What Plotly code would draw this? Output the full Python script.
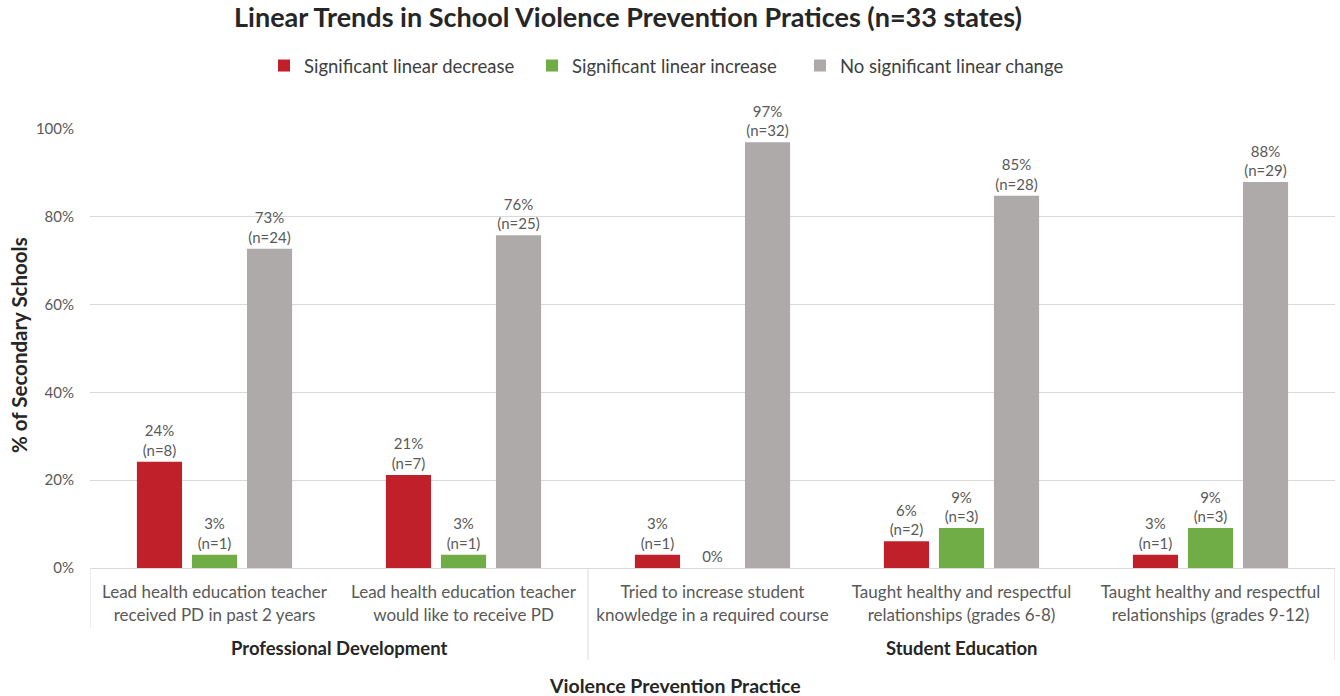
import plotly.graph_objects as go

categories = [
    "Lead health education teacher<br>received PD in past 2 years",
    "Lead health education teacher<br>would like to receive PD",
    "Tried to increase student<br>knowledge in a required course",
    "Taught healthy and respectful<br>relationships (grades 6-8)",
    "Taught healthy and respectful<br>relationships (grades 9-12)",
]
groups = ["Professional Development", "Student Education"]
group_spans = [(0, 1), (2, 4)]

series_names = ["Significant linear decrease", "Significant linear increase", "No significant linear change"]
decrease_pct = [24.2, 21.2, 3.0, 6.1, 3.0]
decrease_n = [8, 7, 1, 2, 1]
increase_pct = [3.0, 3.0, 0.0, 9.1, 9.1]
increase_n = [1, 1, 0, 3, 3]
nochange_pct = [72.7, 75.8, 97.0, 84.8, 87.9]
nochange_n = [24, 25, 32, 28, 29]

colors = ["#C0202A", "#70AD47", "#AEAAAA"]
FONT = "Lato, 'Open Sans', sans-serif"
GRAY_TXT = "#595959"

fig = go.Figure()
for name, pct, ns, col in zip(series_names,
                              [decrease_pct, increase_pct, nochange_pct],
                              [decrease_n, increase_n, nochange_n], colors):
    texts = []
    for p, n in zip(pct, ns):
        if n == 0:
            texts.append(f"{round(p)}%")
        else:
            texts.append(f"{round(p)}%<br>(n={n})")
    fig.add_trace(go.Bar(
        x=list(range(len(categories))), y=pct, name=name,
        marker=dict(color=col, line=dict(width=0)),
        text=texts, textposition="outside", textangle=0,
        textfont=dict(family=FONT, size=15, color=GRAY_TXT),
        cliponaxis=False, hoverinfo="skip",
    ))

fig.update_layout(
    width=1340, height=696,
    margin=dict(l=90, r=5, t=129, b=128),
    paper_bgcolor="white", plot_bgcolor="white",
    barmode="group", bargap=0.337, bargroupgap=0.18,
    font=dict(family=FONT, color=GRAY_TXT),
    title=dict(text="<b>Linear Trends in School Violence Prevention Pratices (n=33 states)</b>",
               x=(628 - 0) / 1340, xanchor="center", y=1 - 18 / 696, yanchor="middle",
               font=dict(family=FONT, size=27, color="#262626")),
    legend=dict(orientation="h", x=(264 - 90) / 1245, xanchor="left",
                y=1 + (129 - 66) / 439, yanchor="middle",
                font=dict(family=FONT, size=18.5, color="#404040"),
                itemwidth=30, traceorder="normal", entrywidth=223),
    showlegend=True,
)

fig.update_yaxes(
    range=[0, 100], tickvals=[0, 20, 40, 60, 80, 100],
    ticktext=["0%", "20%", "40%", "60%", "80%", "100%"],
    tickfont=dict(family=FONT, size=15, color=GRAY_TXT),
    showgrid=True, gridcolor="#D9D9D9", gridwidth=1,
    zeroline=False, ticks="", ticklen=0, ticklabelstandoff=15,
)
fig.update_xaxes(
    range=[-0.5, len(categories) - 0.5],
    tickvals=list(range(len(categories))), ticktext=categories,
    tickfont=dict(family=FONT, size=17, color=GRAY_TXT),
    showline=True, linecolor="#D9D9D9", linewidth=1, ticklabelstandoff=9,
    ticks="", showgrid=False, zeroline=False,
)

plot_h = 439
plot_w = 1245
# divider lines
fig.add_shape(type="line", xref="x", yref="paper", x0=-0.5, x1=-0.5, y0=0, y1=-60 / plot_h,
              line=dict(color="#D9D9D9", width=1))
for a, b in group_spans[1:]:
    fig.add_shape(type="line", xref="x", yref="paper", x0=a - 0.5, x1=a - 0.5, y0=0, y1=-92 / plot_h,
                  line=dict(color="#D9D9D9", width=1))
fig.add_shape(type="line", xref="x", yref="paper", x0=len(categories) - 0.5, x1=len(categories) - 0.5,
              y0=0, y1=-92 / plot_h, line=dict(color="#D9D9D9", width=1))

for g, (a, b) in zip(groups, group_spans):
    fig.add_annotation(x=(a + b) / 2, xref="x", y=-(648 - 568) / plot_h, yref="paper",
                       text=f"<b>{g}</b>", showarrow=False, yanchor="middle",
                       font=dict(family=FONT, size=18.5, color="#262626"))

fig.add_annotation(x=(675 - 90) / plot_w, xref="paper", y=-(685 - 568) / plot_h, yref="paper",
                   text="<b>Violence Prevention Practice</b>", showarrow=False, yanchor="middle",
                   font=dict(family=FONT, size=19.5, color="#262626"))

fig.add_annotation(x=(19 - 90) / plot_w, xref="paper", y=(568 - 345) / plot_h, yref="paper",
                   text="<b>% of Secondary Schools</b>", showarrow=False, textangle=-90,
                   xanchor="center", yanchor="middle",
                   font=dict(family=FONT, size=20.5, color="#262626"))

fig.write_html("out.html")
